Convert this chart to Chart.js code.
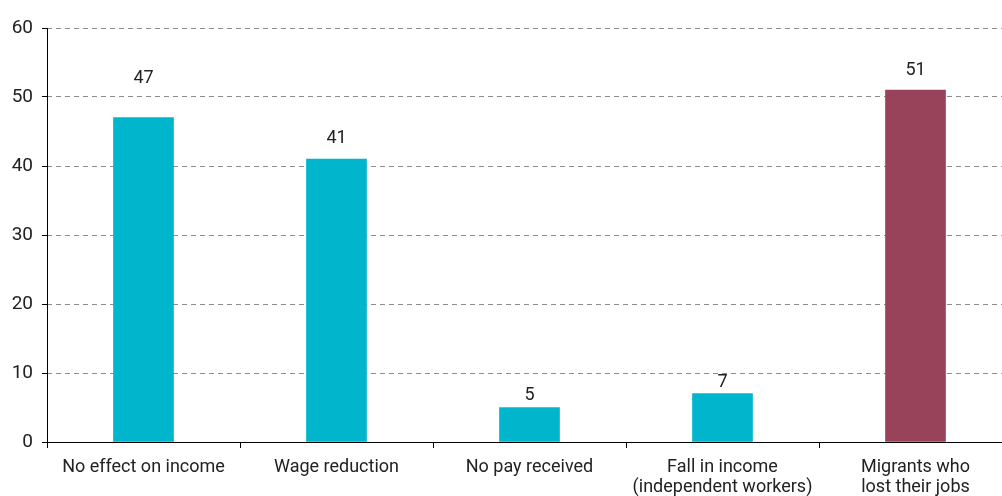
<!DOCTYPE html>
<html>
<head>
<meta charset="utf-8">
<script src="https://cdn.jsdelivr.net/npm/chart.js@4"></script>
<style>
  html, body { margin: 0; padding: 0; background: #fff; overflow: hidden; }
  #wrap { width: 1015px; height: 496px; }
</style>
</head>
<body>
<div id="wrap"><canvas id="chart" width="1015" height="496"></canvas></div>
<script>
// Datos
var categories = [
    'No effect on income',
    'Wage reduction',
    'No pay received',
    ['Fall in income', '(independent workers)'],
    ['Migrants who', 'lost their jobs']
];
var values = [47, 41, 5, 7, 51];
var barColors = ['#00b5cc', '#00b5cc', '#00b5cc', '#00b5cc', '#99435a'];
var yTicks = [0, 10, 20, 30, 40, 50, 60];

var fontFamily = "'Roboto', sans-serif";

// Etiqueta de valor encima de cada barra (separación en px por barra)
var valueLabels = {
    id: 'valueLabels',
    afterDatasetsDraw: function (chart, args, opts) {
        var ctx = chart.ctx;
        var meta = chart.getDatasetMeta(0);
        ctx.save();
        ctx.font = '18px ' + fontFamily;
        ctx.fillStyle = '#222';
        ctx.textAlign = 'center';
        ctx.textBaseline = 'middle';
        meta.data.forEach(function (bar, i) {
            ctx.fillText(values[i], bar.x, bar.y - opts.gaps[i]);
        });
        ctx.restore();
    }
};

// Eje vertical sólido (el borde del eje y se dibujaría punteado con border.dash)
var yAxisLine = {
    id: 'yAxisLine',
    afterDraw: function (chart) {
        var ctx = chart.ctx;
        var area = chart.chartArea;
        var x = Math.round(area.left) + 0.5;
        ctx.save();
        ctx.strokeStyle = '#000';
        ctx.lineWidth = 1;
        ctx.setLineDash([]);
        ctx.beginPath();
        ctx.moveTo(x, area.top);
        ctx.lineTo(x, area.bottom);
        ctx.stroke();
        ctx.restore();
    }
};

new Chart(document.getElementById('chart').getContext('2d'), {
    type: 'bar',
    data: {
        labels: categories,
        datasets: [{
            data: values,
            backgroundColor: barColors,
            borderWidth: 0,
            barThickness: 60
        }]
    },
    options: {
        responsive: false,
        animation: false,
        layout: { padding: { top: 28, right: 3, left: 0, bottom: 0 } },
        plugins: {
            legend: { display: false },
            tooltip: { enabled: false },
            valueLabels: { gaps: [39, 21, 12, 11, 20] }
        },
        scales: {
            x: {
                offset: true,
                afterFit: function (scale) { scale.height = 54; },
                border: { display: true, color: '#000', width: 1 },
                grid: {
                    offset: true,
                    drawOnChartArea: false,
                    drawTicks: true,
                    tickLength: 6,
                    tickColor: '#000'
                },
                ticks: {
                    color: '#222',
                    padding: 10,
                    maxRotation: 0,
                    autoSkip: false,
                    font: { family: fontFamily, size: 18, lineHeight: 1.1 }
                }
            },
            y: {
                min: 0,
                max: 60,
                afterFit: function (scale) { scale.width = 47; },
                afterBuildTicks: function (scale) {
                    scale.ticks = yTicks.map(function (v) { return { value: v }; });
                },
                border: { display: false, dash: [5, 4] },
                grid: {
                    color: '#8c8c8c',
                    tickColor: '#000',
                    tickBorderDash: [],
                    tickLength: 5,
                    lineWidth: 1
                },
                ticks: {
                    color: '#222',
                    padding: 9,
                    font: { family: fontFamily, size: 19 }
                }
            }
        }
    },
    plugins: [valueLabels, yAxisLine]
});
</script>
</body>
</html>
